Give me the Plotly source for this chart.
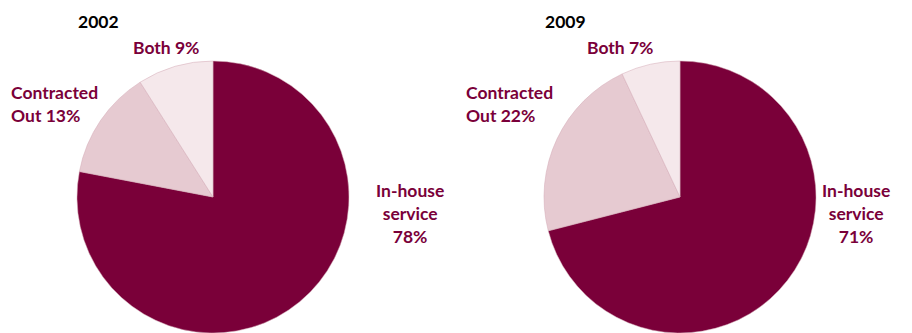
import plotly.graph_objects as go

W, H = 912, 333

categories = ["In-house service", "Contracted Out", "Both"]
values_2002 = [78, 13, 9]
values_2009 = [71, 22, 7]
years = ["2002", "2009"]

colors = ["#7a0039", "#e6cad1", "#f5e8eb"]
text_color = "#7a0039"
font_family = "Lato, 'Open Sans', sans-serif"

fig = go.Figure()

def px_dom(x0, x1, y0, y1):
    return dict(x=[x0 / W, x1 / W], y=[1 - y1 / H, 1 - y0 / H])

for vals, dom in [(values_2002, px_dom(77, 349, 61, 333)),
                  (values_2009, px_dom(544, 816, 61, 333))]:
    fig.add_trace(go.Pie(
        labels=categories, values=vals, sort=False, direction="clockwise",
        rotation=0, textinfo="none", hoverinfo="label+percent",
        marker=dict(colors=colors, line=dict(color="#d2a9b5", width=0.5)),
        domain=dom, showlegend=False,
    ))

def ann(text, x, y, color=text_color, xanchor="center", align="center", size=17.5):
    fig.add_annotation(text=text, x=x / W, y=1 - y / H, xref="paper", yref="paper",
                       showarrow=False, xanchor=xanchor, yanchor="middle", align=align,
                       font=dict(family=font_family, size=size, color=color))

# titles
ann("<b>%s</b>" % years[0], 98, 21, color="#000000")
ann("<b>%s</b>" % years[1], 565, 21, color="#000000")

# 2002 labels
ann("<b>Both %d%%</b>" % values_2002[2], 166, 47)
ann("<b>Contracted<br>Out %d%%</b>" % values_2002[1], 9, 104, xanchor="left", align="left")
ann("<b>In-house<br>service<br>%d%%</b>" % values_2002[0], 410, 213)

# 2009 labels
ann("<b>Both %d%%</b>" % values_2009[2], 620, 47)
ann("<b>Contracted<br>Out %d%%</b>" % values_2009[1], 464, 104, xanchor="left", align="left")
ann("<b>In-house<br>service<br>%d%%</b>" % values_2009[0], 856, 213)

fig.update_layout(
    width=W, height=H, margin=dict(l=0, r=0, t=0, b=0),
    paper_bgcolor="white", plot_bgcolor="white",
)

fig.write_html("out.html")
